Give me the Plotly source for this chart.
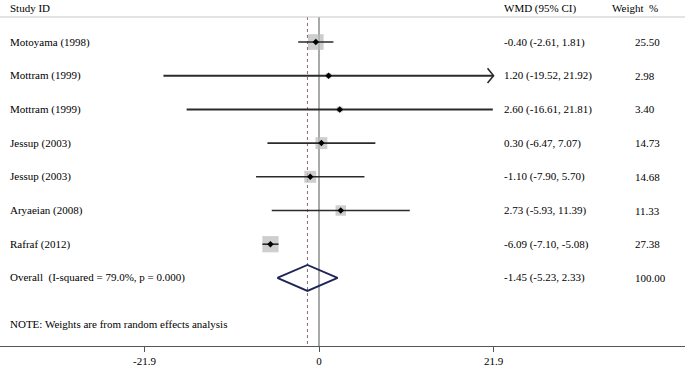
import plotly.graph_objects as go

# ---- data ----
studies = ["Motoyama (1998)", "Mottram (1999)", "Mottram (1999)", "Jessup (2003)",
           "Jessup (2003)", "Aryaeian (2008)", "Rafraf (2012)"]
wmd = [-0.40, 1.20, 2.60, 0.30, -1.10, 2.73, -6.09]
ci_low = [-2.61, -19.52, -16.61, -6.47, -7.90, -5.93, -7.10]
ci_high = [1.81, 21.92, 21.81, 7.07, 5.70, 11.39, -5.08]
weights = [25.50, 2.98, 3.40, 14.73, 14.68, 11.33, 27.38]
overall_label = "Overall  (I-squared = 79.0%, p = 0.000)"
overall_est = -1.45
overall_low = -5.23
overall_high = 2.33
overall_weight = 100.00
tick_vals = [-21.9, 0, 21.9]
tick_text = ["-21.9", "0", "21.9"]
note_text = "NOTE: Weights are from random effects analysis"

# ---- layout constants ----
W, H = 685, 367
PLOT_H = 346          # bottom of plot area (axis line)
ROW0 = 42             # pixel y of first row
ROWH = 33.7           # pixel spacing between rows
X0PIX = 319           # pixel x of zero
PXU = 7.97            # pixels per unit

def ydat(pix):
    return (pix - ROW0) / ROWH

FONT = "Liberation Serif, Times New Roman, serif"
FS = 11
axis_lim = max(tick_vals)

fig = go.Figure()

n = len(studies)
rows = list(range(n))

# weight boxes
box_sizes = [3.1 * (w ** 0.5) for w in weights]
fig.add_trace(go.Scatter(x=wmd, y=rows, mode="markers",
                         marker=dict(symbol="square", size=box_sizes, color="#b9b9b9",
                                     line=dict(width=0)),
                         hoverinfo="skip", showlegend=False))

# CI lines (clipped at axis limit), arrows where clipped
for i in rows:
    lo = max(ci_low[i], -axis_lim)
    hi = min(ci_high[i], axis_lim)
    wdt = 2 if (ci_high[i] - ci_low[i]) > 30 else 1.6
    fig.add_trace(go.Scatter(x=[lo, hi], y=[i, i], mode="lines",
                             line=dict(color="#2b2b2b", width=wdt),
                             hoverinfo="skip", showlegend=False))
    ah = 0.22
    aw = 6 / PXU
    if ci_high[i] > axis_lim:
        fig.add_trace(go.Scatter(x=[axis_lim - aw, axis_lim, axis_lim - aw],
                                 y=[i - ah, i, i + ah], mode="lines",
                                 line=dict(color="#2b2b2b", width=1.6),
                                 hoverinfo="skip", showlegend=False))
    if ci_low[i] < -axis_lim:
        fig.add_trace(go.Scatter(x=[-axis_lim + aw, -axis_lim, -axis_lim + aw],
                                 y=[i - ah, i, i + ah], mode="lines",
                                 line=dict(color="#2b2b2b", width=1.6),
                                 hoverinfo="skip", showlegend=False))

# point estimates
fig.add_trace(go.Scatter(x=wmd, y=rows, mode="markers",
                         marker=dict(symbol="diamond", size=5, color="black"),
                         hoverinfo="skip", showlegend=False))

# overall diamond
orow = n
dh = 13 / ROWH
fig.add_trace(go.Scatter(x=[overall_low, overall_est, overall_high, overall_est, overall_low],
                         y=[orow, orow - dh, orow, orow + dh, orow], mode="lines",
                         line=dict(color="#1c2456", width=1.8),
                         hoverinfo="skip", showlegend=False))

# reference lines
ytop = ydat(17)
ybot = ydat(PLOT_H)
fig.add_shape(type="line", xref="x", yref="y", x0=0, x1=0, y0=ytop, y1=ybot,
              line=dict(color="#555555", width=1), layer="below")
fig.add_shape(type="line", xref="x", yref="y", x0=overall_est, x1=overall_est, y0=ytop, y1=ybot,
              line=dict(color="#8c6a7a", width=1, dash="3px,3px"), layer="below")
# header rule
fig.add_shape(type="line", xref="paper", yref="y", x0=0, x1=1, y0=ytop, y1=ytop,
              line=dict(color="#c8c8c8", width=1))

ann = []
def txt(s, xpix, y, anchor="left"):
    ann.append(dict(text=s, x=xpix / W, xref="paper", y=y, yref="y",
                    xanchor=anchor, yanchor="middle", showarrow=False,
                    font=dict(family=FONT, size=FS, color="black")))

# headers
txt("Study ID", 8, ydat(8))
txt("WMD (95% CI)", 502, ydat(8))
txt("Weight  %", 610, ydat(8))

for i in rows:
    txt(studies[i], 8, i)
    txt(f"{wmd[i]:.2f} ({ci_low[i]:.2f}, {ci_high[i]:.2f})", 502, i)
    txt(f"{weights[i]:.2f}", 633, i)

txt(overall_label, 8, orow)
txt(f"{overall_est:.2f} ({overall_low:.2f}, {overall_high:.2f})", 502, orow)
txt(f"{overall_weight:.2f}", 633, orow)
txt(note_text, 8, ydat(324))

fig.update_layout(
    width=W, height=H,
    margin=dict(l=0, r=0, t=0, b=H - PLOT_H, autoexpand=False),
    paper_bgcolor="white", plot_bgcolor="white",
    annotations=ann,
    xaxis=dict(range=[-X0PIX / PXU, (W - X0PIX) / PXU], showgrid=False, zeroline=False,
               showline=True, linecolor="#555555", linewidth=1,
               ticks="outside", ticklen=5, tickcolor="#555555",
               tickvals=tick_vals, ticktext=tick_text,
               tickfont=dict(family=FONT, size=FS, color="black")),
    yaxis=dict(range=[ydat(PLOT_H), ydat(0)], showgrid=False, zeroline=False,
               showticklabels=False, showline=False, fixedrange=True),
)

fig.write_html("out.html", config={"displayModeBar": False},
               post_script="document.body.style.margin='0';document.body.style.overflow='hidden';")
